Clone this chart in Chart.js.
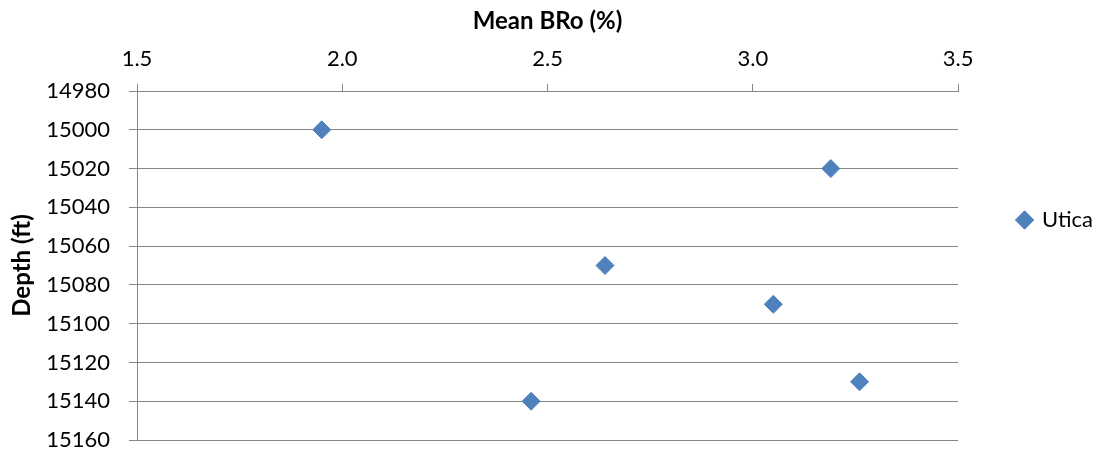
<!DOCTYPE html>
<html>
<head>
<meta charset="utf-8">
<script src="https://cdn.jsdelivr.net/npm/chart.js@4"></script>
<style>
  html, body { margin: 0; padding: 0; background: #fff; }
  #wrap { width: 1097px; height: 453px; }
</style>
</head>
<body>
<div id="wrap"><canvas id="vitriniteChart" width="1097" height="453"></canvas></div>
<script>
const seriesName = 'Utica';
const meanBRo = [1.95, 3.19, 2.64, 3.05, 3.26, 2.46];
const depthFt = [15000, 15020, 15070, 15090, 15130, 15140];
const xTicks = [1.5, 2.0, 2.5, 3.0, 3.5];
const yTicks = [14980, 15000, 15020, 15040, 15060, 15080, 15100, 15120, 15140, 15160];

const gridGray = '#868686';
const markerBlue = '#4F81BD';

Chart.defaults.font.family = 'Lato';
Chart.defaults.font.size = 22;
Chart.defaults.color = '#000';

const points = meanBRo.map((v, i) => ({ x: v, y: depthFt[i] }));

const ctx = document.getElementById('vitriniteChart').getContext('2d');
const chart = new Chart(ctx, {
    type: 'scatter',
    data: {
        datasets: [{
            label: seriesName,
            data: points,
            pointStyle: 'rectRot',
            pointRadius: 9,
            pointHoverRadius: 9,
            backgroundColor: markerBlue,
            borderColor: markerBlue,
            borderWidth: 1
        }]
    },
    options: {
        responsive: false,
        animation: false,
        layout: { padding: { top: 0, left: 0, bottom: 13, right: -6 } },
        plugins: {
            tooltip: { enabled: false },
            legend: {
                position: 'right',
                labels: {
                    usePointStyle: true,
                    pointStyle: 'rectRot',
                    boxWidth: 13,
                    boxHeight: 13,
                    padding: 60,
                    font: { size: 22 }
                }
            }
        },
        scales: {
            x: {
                type: 'linear',
                position: 'top',
                min: xTicks[0],
                max: xTicks[xTicks.length - 1],
                afterBuildTicks: s => { s.ticks = xTicks.map(v => ({ value: v })); },
                afterFit: s => { s.height = 91; s.paddingLeft = 0; s.paddingRight = 0; },
                ticks: {
                    padding: 12,
                    callback: v => Number(v).toFixed(1)
                },
                grid: {
                    drawOnChartArea: false,
                    drawTicks: true,
                    tickLength: 7,
                    color: gridGray
                },
                border: { display: true, color: gridGray },
                title: {
                    display: true,
                    text: 'Mean BRo (%)',
                    font: { size: 24, weight: 'bold' },
                    padding: { top: 7, bottom: 0 }
                }
            },
            y: {
                type: 'linear',
                reverse: true,
                min: yTicks[0],
                max: yTicks[yTicks.length - 1],
                afterBuildTicks: s => { s.ticks = yTicks.map(v => ({ value: v })); },
                afterFit: s => { s.width = 137; s.paddingTop = 0; s.paddingBottom = 0; },
                ticks: {
                    padding: 19,
                    callback: v => String(v)
                },
                grid: {
                    drawTicks: true,
                    tickLength: 8,
                    color: gridGray
                },
                border: { display: true, color: gridGray },
                title: {
                    display: true,
                    text: 'Depth (ft)',
                    font: { size: 24, weight: 'bold' },
                    padding: { top: 8, bottom: 0 }
                }
            }
        }
    }
});
</script>
</body>
</html>
